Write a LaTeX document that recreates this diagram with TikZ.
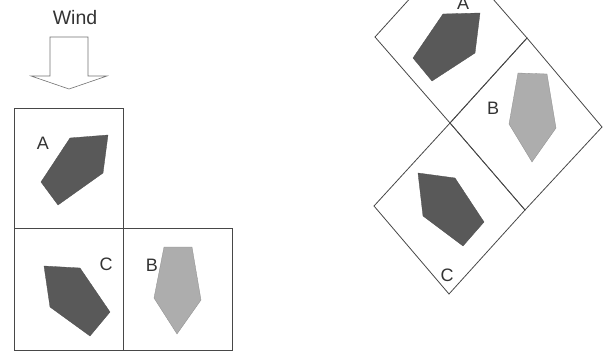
\documentclass[tikz,border=0pt]{standalone}
\usepackage{fontspec}
\setmainfont{Liberation Sans}
\begin{document}
\begin{tikzpicture}[x=1pt,y=-1pt,
  frame/.style={draw=black!72,line width=0.9pt},
  dark/.style={fill=black!65,draw=black!70,line width=0.3pt},
  light/.style={fill=black!32,draw=black!45,line width=0.3pt},
  lbl/.style={font=\fontsize{18}{18}\selectfont,text=black!80,inner sep=0pt},
  arrowshape/.style={draw=black!55,line width=0.6pt,fill=white}]
\useasboundingbox (0,0) rectangle (605,353);
\clip (0,0) rectangle (605,353);
% Wind arrow
\node[font=\fontsize{19.5}{19.5}\selectfont,text=black!80,inner sep=0pt] (wind) at (75,18) {Wind};
\draw[arrowshape] (50,37) -- (88,37) -- (88,76) -- (107,76) -- (69,89) -- (31,76) -- (50,76) -- cycle;
% Left boxes
\draw[frame] (14,108) rectangle (123,228);
\draw[frame] (14,228) rectangle (123,350);
\draw[frame] (123,228) rectangle (232,350);
% left shapes
\draw[dark] (70,138) -- (108,135) -- (103,173) -- (58,205) -- (41,182) -- cycle;
\draw[dark] (44,266) -- (80,268) -- (110,312) -- (90,336) -- (50,307) -- cycle;
\draw[light] (164,247) -- (192,247) -- (201,300) -- (177,334) -- (154,298) -- cycle;
\node[lbl] (la) at (43,143) {A};
\node[lbl] (lc) at (106,264) {C};
\node[lbl] (lb) at (152,265) {B};
% Right rotated squares
\coordinate (T) at (452,-48);
\coordinate (L) at (375,37);
\coordinate (M) at (450,123);
\coordinate (R) at (527,38);
\coordinate (BR) at (602,127);
\coordinate (BB) at (525,210);
\coordinate (CB) at (449,294);
\coordinate (CL) at (374,206);
\draw[draw=black!72,line width=0.8pt] (T) -- (L) -- (M) -- (R) -- cycle;
\draw[draw=black!72,line width=0.8pt] (M) -- (R) -- (BR) -- (BB) -- cycle;
\draw[draw=black!72,line width=0.8pt] (M) -- (BB) -- (CB) -- (CL) -- cycle;
% right shapes
\draw[dark] (443,14) -- (480,13) -- (475,53) -- (432,81) -- (413,58) -- cycle;
\draw[light] (518,73) -- (547,74) -- (556,128) -- (532,162) -- (509,124) -- cycle;
\draw[dark] (418,173) -- (455,178) -- (484,222) -- (463,246) -- (423,216) -- cycle;
\node[lbl] (ra) at (463,3) {A};
\node[lbl] (rb) at (493,108) {B};
\node[lbl] (rc) at (447,275) {C};
\end{tikzpicture}
\end{document}
